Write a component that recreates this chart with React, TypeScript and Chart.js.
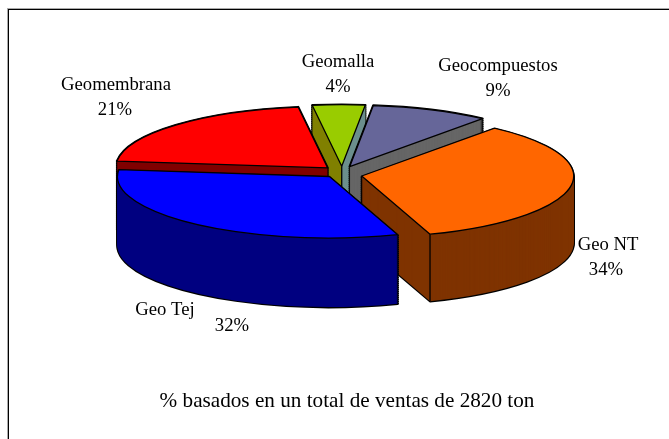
import React, { useEffect, useRef } from "react";
import { Chart, registerables } from "chart.js";

Chart.register(...registerables);

const categories = ["Geo NT", "Geo Tej", "Geomembrana", "Geomalla", "Geocompuestos"];
const shares = [34, 32, 21, 4, 9];
const topColors = ["#FF6600", "#0000FF", "#FF0000", "#99CC00", "#666699"];
const sideColors = ["#7F3300", "#000080", "#800000", "#808000", "#666666"];
const caption = "% basados en un total de ventas de 2820 ton";

const START_ROTATION = 38.8;
const RADIUS = 212;
const CENTER_X = 342;
const CENTER_Y = 172;
const SQUASH = 0.29;
const EXPLODE = 20;
const DEPTHS = [67, 69, 68, 68, 68];
const PAINT_ORDER = [3, 4, 2, 0, 1];
const NUDGE_Y = [3, 0, 0, 0, 0];
const END_FACE_COLORS: Record<number, string> = { 3: "#6B8E8C" };
const APEX_CREASE = [false, false, false, true, false];
const END_CREASE = [true, false, false, false, false];
const LABEL_LAYOUT = [
  { x: 608, y: 250, px: 606, py: 275 },
  { x: 165, y: 315, px: 232, py: 331 },
  { x: 116, y: 90, px: 115, py: 115 },
  { x: 338, y: 67, px: 338, py: 92 },
  { x: 498, y: 71, px: 498, py: 96 },
];
const FONT = "Liberation Serif";

const pie3d = {
  id: "pie3d",
  beforeDatasetsDraw(chart: any) {
    const ctx: CanvasRenderingContext2D = chart.ctx;
    const arcs = chart.getDatasetMeta(0).data;

    // frame: only the top and left rules exist in the picture
    ctx.fillStyle = "#AAAAAA";
    ctx.fillRect(7, 8, chart.width - 7, 1);
    ctx.fillRect(7, 8, 1, chart.height - 8);
    ctx.fillStyle = "#000000";
    ctx.fillRect(8, 9, chart.width - 8, 1);
    ctx.fillRect(8, 9, 1, chart.height - 9);

    for (const i of PAINT_ORDER) {
      const el = arcs[i];
      const start = el.startAngle;
      const end = el.endAngle;
      const mid = (start + end) / 2;
      const r = el.outerRadius;
      const depth = DEPTHS[i];
      const cx = CENTER_X + Math.cos(mid) * EXPLODE;
      const cy = CENTER_Y + Math.sin(mid) * EXPLODE * SQUASH + NUDGE_Y[i];
      const trace = (dy: number) => {
        ctx.save();
        ctx.translate(cx, cy + dy);
        ctx.scale(1, SQUASH);
        ctx.beginPath();
        ctx.moveTo(0, 0);
        ctx.arc(0, 0, r, start, end);
        ctx.closePath();
        ctx.restore();
      };
      const corner = (a: number) => ({
        x: cx + Math.cos(a) * r,
        y: cy + Math.sin(a) * r * SQUASH,
      });

      // silhouette of the extruded slice
      ctx.strokeStyle = "#000000";
      ctx.lineJoin = "round";
      ctx.lineWidth = 2.4;
      for (let d = depth; d >= 0; d -= 2) {
        trace(d);
        ctx.stroke();
      }
      ctx.fillStyle = sideColors[i];
      for (let d = depth; d >= 0; d -= 1) {
        trace(d);
        ctx.fill();
      }

      // cut face with its own shade
      if (END_FACE_COLORS[i]) {
        const p = corner(end);
        ctx.fillStyle = END_FACE_COLORS[i];
        ctx.beginPath();
        ctx.moveTo(cx, cy);
        ctx.lineTo(p.x, p.y);
        ctx.lineTo(p.x, p.y + depth);
        ctx.lineTo(cx, cy + depth);
        ctx.closePath();
        ctx.fill();
      }

      // visible vertical creases
      ctx.lineWidth = 1.3;
      if (APEX_CREASE[i]) {
        ctx.beginPath();
        ctx.moveTo(cx, cy);
        ctx.lineTo(cx, cy + depth);
        ctx.stroke();
      }
      if (END_CREASE[i]) {
        const p = corner(end);
        ctx.beginPath();
        ctx.moveTo(p.x, p.y);
        ctx.lineTo(p.x, p.y + depth);
        ctx.stroke();
      }

      // top face, drawn by the arc element itself under the squash
      ctx.save();
      ctx.translate(cx, cy);
      ctx.scale(1, SQUASH);
      ctx.translate(-el.x, -el.y);
      el.draw(ctx);
      ctx.restore();
      trace(0);
      ctx.lineWidth = 1.3;
      ctx.stroke();
    }

    // slice labels
    ctx.fillStyle = "#000000";
    ctx.font = `18.7px "${FONT}"`;
    ctx.textAlign = "center";
    ctx.textBaseline = "alphabetic";
    chart.data.labels.forEach((label: string, i: number) => {
      const at = LABEL_LAYOUT[i];
      ctx.fillText(label, at.x, at.y);
      ctx.fillText(`${chart.data.datasets[0].data[i]}%`, at.px, at.py);
    });
    return false;
  },
};

export default function App() {
  const ref = useRef<HTMLCanvasElement>(null);
  useEffect(() => {
    const chart = new Chart(ref.current!, {
      type: "pie",
      data: {
        labels: categories,
        datasets: [
          {
            data: shares,
            backgroundColor: topColors,
            borderWidth: 0,
          },
        ],
      },
      options: {
        responsive: false,
        animation: false,
        events: [],
        rotation: START_ROTATION,
        radius: RADIUS,
        layout: { padding: { left: 25 } },
        plugins: {
          legend: { display: false },
          tooltip: { enabled: false },
          title: {
            display: true,
            text: caption,
            position: "bottom",
            color: "#000000",
            font: { family: FONT, size: 21.2, weight: "normal" },
            padding: { top: 0, bottom: 25 },
          },
        },
      },
      plugins: [pie3d],
    } as any);
    return () => chart.destroy();
  }, []);
  return (
    <div style={{ position: "absolute", left: 0, top: 0, width: 669, height: 439 }}>
      <canvas ref={ref} width={669} height={439} />
    </div>
  );
}
